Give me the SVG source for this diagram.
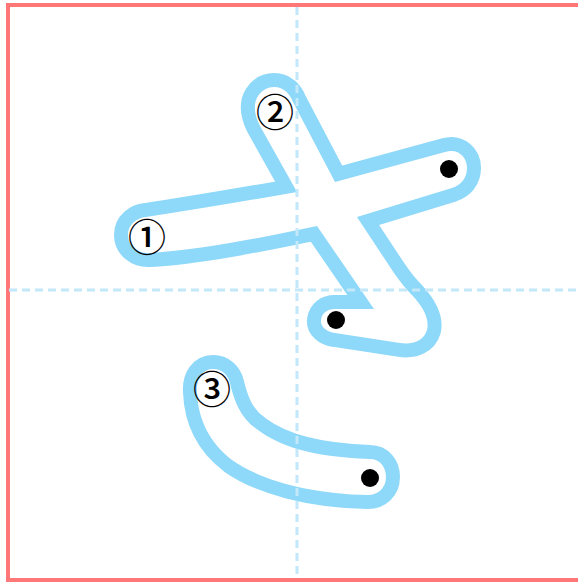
<svg xmlns="http://www.w3.org/2000/svg" xmlns:xlink="http://www.w3.org/1999/xlink" width="578" height="584" viewBox="0 0 578 584">
<style>
.frame{fill:none;stroke:#ff7777;stroke-width:4}
.edge{fill:#8ed8f9;stroke:#8ed8f9;stroke-width:28;stroke-linejoin:round}
.body{fill:#ffffff;stroke:none}
.guide{fill:none;stroke:#c2e8f9;stroke-width:3;stroke-dasharray:8 5}
.dot{fill:#000000}
.num{font-family:"Noto Sans CJK JP","DejaVu Sans",sans-serif;font-size:38px;font-weight:500;fill:#000000;text-anchor:middle}
</style>
<defs>
<path id="s1" d="M146,217 C200,209 250,200 297,192 L335,182 L445,152 C458,148 467,157 467,168 C467,178 461,185 452,188 L357,217 L317,226 C260,238 200,250 150,253 C138,254 128,246 128,235 C128,224 137,218 146,217 Z"/>
<path id="s2" d="M293,102 L335,182 L357,217 L392,270 C400,282 407,290 412,295 C422,306 430,318 427,330 C424,340 414,345 400,343 L335,333 C326,332 320,326 321,320 C322,313 327,309 335,309 L374,309 L317,226 L297,192 L260,126 C254,114 253,104 258,96 C262,90 268,87 274,87 C284,87 290,94 293,102 Z"/>
<path id="s3" d="M197,392 C196,378 203,369 213,369 C222,369 228,375 230,383 C234,400 240,418 258,430 C278,445 310,457 370,459 C380,459 386,467 386,477 C386,488 378,495 368,495 C310,494 260,480 232,460 C210,443 198,420 197,392 Z"/>
</defs>
<rect id="frame" class="frame" x="8" y="5" width="572" height="575"/>
<g id="outlines">
<use xlink:href="#s1" class="edge"/>
<use xlink:href="#s2" class="edge"/>
<use xlink:href="#s3" class="edge"/>
</g>
<g id="bodies">
<use xlink:href="#s1" class="body"/>
<use xlink:href="#s2" class="body"/>
<use xlink:href="#s3" class="body"/>
</g>
<g id="guides">
<line class="guide" x1="297" y1="7" x2="297" y2="578"/>
<line class="guide" x1="9" y1="290" x2="578" y2="290"/>
</g>
<g id="stroke1">
<circle class="dot" cx="449" cy="169" r="9"/>
<text class="num" x="147" y="251">①</text>
</g>
<g id="stroke2">
<circle class="dot" cx="336" cy="320" r="9"/>
<text class="num" x="275" y="126">②</text>
</g>
<g id="stroke3">
<circle class="dot" cx="370" cy="478" r="9"/>
<text class="num" x="212" y="403">③</text>
</g>
</svg>
